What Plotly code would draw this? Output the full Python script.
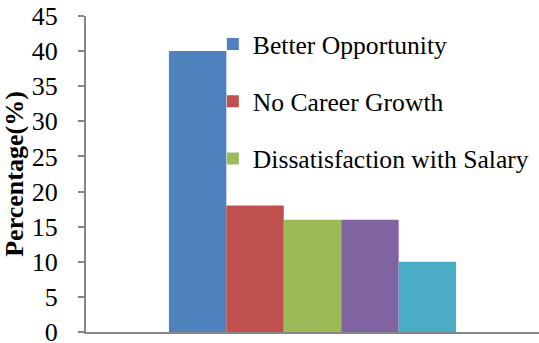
import plotly.graph_objects as go

categories = ["Reasons"]
series_names = ["Better Opportunity", "No Career Growth", "Dissatisfaction with Salary",
                "Work Environment", "Personal Reasons"]
series_values = [40, 18, 16, 16, 10]
series_colors = ["#4F81BD", "#C0504D", "#9BBB59", "#8064A2", "#4BACC6"]
show_in_legend = [True, True, True, False, False]
y_ticks = [0, 5, 10, 15, 20, 25, 30, 35, 40, 45]

FONT = "Times New Roman"

fig = go.Figure()
for i, (name, val, col, sl) in enumerate(zip(series_names, series_values, series_colors, show_in_legend)):
    fig.add_trace(go.Bar(
        x=categories, y=[val], name=name, marker=dict(color=col, line=dict(width=0)),
        showlegend=sl, legendgroup=f"g{i}",
    ))

fig.update_layout(
    width=539, height=343,
    margin=dict(l=86, r=0, t=16, b=11, autoexpand=False),
    paper_bgcolor="white", plot_bgcolor="white",
    barmode="group", bargap=0.366, bargroupgap=0,
    font=dict(family=FONT, size=26, color="black"),
    legend=dict(
        x=0.28, xanchor="left", y=0.985, yanchor="top",
        font=dict(family=FONT, size=25.6, color="black"),
        bgcolor="rgba(0,0,0,0)", tracegroupgap=21,
    ),
    xaxis=dict(
        showticklabels=False, ticks="", showgrid=False, zeroline=False,
        showline=True, linecolor="#868686", linewidth=2,
    ),
    yaxis=dict(
        range=[0, 45], tickvals=y_ticks, showgrid=False, zeroline=False,
        showline=True, linecolor="#868686", linewidth=2,
        ticks="outside", ticklen=6, tickwidth=2, tickcolor="#868686",
        ticklabelstandoff=15, ticklabeloverflow="allow",
        tickfont=dict(family=FONT, size=26, color="black"),
        title=dict(text="<b>Percentage(%)</b>", font=dict(family=FONT, size=26, color="black"), standoff=3),
    ),
)

fig.write_html("out.html")
